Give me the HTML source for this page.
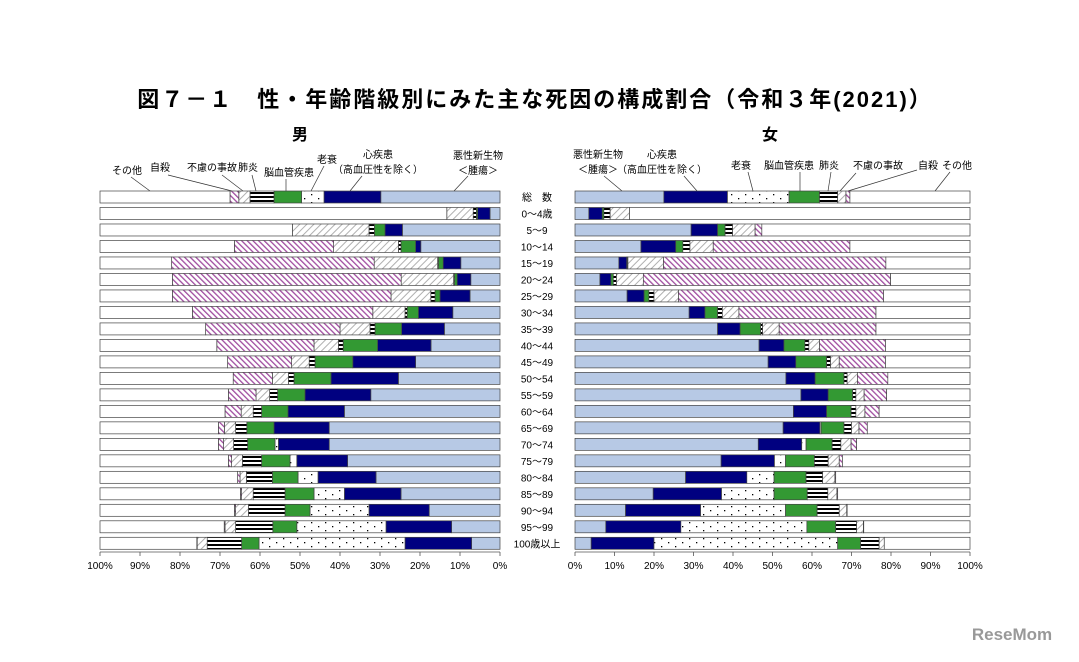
<!DOCTYPE html>
<html><head><meta charset="utf-8">
<style>
html,body{margin:0;padding:0;background:#fff;}
body{width:1079px;height:657px;overflow:hidden;font-family:"Liberation Sans","Noto Sans CJK JP",sans-serif;}
svg text{font-family:"Liberation Sans","Noto Sans CJK JP",sans-serif;}
</style></head>
<body>
<svg id="chart" width="1079" height="657" viewBox="0 0 1079 657" xmlns="http://www.w3.org/2000/svg">
<defs>
<pattern id="pDot" width="14" height="8" patternUnits="userSpaceOnUse"><rect width="14" height="8" fill="#fff"/><rect x="3" y="2" width="1.3" height="1.3" fill="#000"/><rect x="10" y="6" width="1.3" height="1.3" fill="#000"/></pattern>
<pattern id="pPneu" width="6" height="4" patternUnits="userSpaceOnUse"><rect width="6" height="4" fill="#fff"/><rect y="0" width="6" height="2" fill="#000"/></pattern>
<pattern id="pAcc" width="5" height="5" patternUnits="userSpaceOnUse" patternTransform="rotate(45)"><rect width="5" height="5" fill="#fff"/><rect width="1" height="5" fill="#b0b0b0"/></pattern>
<pattern id="pSui" width="4" height="4" patternUnits="userSpaceOnUse" patternTransform="rotate(-45)"><rect width="4" height="4" fill="#fff"/><rect width="1.3" height="4" fill="#a04ca0"/></pattern>
</defs>
<text x="535" y="107" text-anchor="middle" font-size="22" letter-spacing="2" font-weight="bold" fill="#000">図７－１　性・年齢階級別にみた主な死因の構成割合（令和３年(2021)）</text>
<text x="300" y="140" text-anchor="middle" font-size="16" font-weight="bold">男</text>
<text x="770" y="140" text-anchor="middle" font-size="16" font-weight="bold">女</text>
<g id="legendM" font-size="10" fill="#000"></g>
<g id="legendF" font-size="10" fill="#000"></g>
<g id="bars"></g>
<g id="axes" font-size="10"></g>
<text x="1012" y="640" text-anchor="middle" font-size="17" font-weight="bold" fill="#999">ReseMom</text>
</svg>
<script>
const ageLabels = ["総　数","0～4歳","5～9","10～14","15～19","20～24","25～29","30～34","35～39","40～44","45～49","50～54","55～59","60～64","65～69","70～74","75～79","80～84","85～89","90～94","95～99","100歳以上"];
const causes = ["悪性新生物","心疾患","老衰","脳血管疾患","肺炎","不慮の事故","自殺","その他"];
// male series (percent)
const maleCancer  = [29.8,2.5,24.4,19.8,9.8,7.3,7.5,11.8,13.9,17.25,21.1,25.4,32.3,38.9,42.7,42.7,38.1,31,24.75,17.7,12.1,7.1];
const maleHeart   = [14.2,3.1,4.35,1.3,4.4,3.4,7.5,8.6,10.7,13.35,15.7,16.85,16.45,14.1,13.8,12.7,12.7,14.5,14.15,15.05,16.4,16.65];
const maleSenility= [5.6,0,0,0,0,0,0,0,0,0,0,0,0,0,0,0.85,1.7,5,7.6,14.75,22.3,36.5];
const maleStroke  = [6.9,0.3,2.65,3.65,1.2,0.7,1.25,2.8,6.65,8.6,9.45,9.25,6.85,6.6,6.8,6.85,7.1,6.4,7.25,6.25,6,4.35];
const malePneu    = [6.0,0.8,1.35,0.65,0.2,0.2,1.05,0.55,1.25,1.2,1.45,1.4,2,2.1,2.8,3.5,4.8,6.5,7.95,9.15,9.3,8.6];
const maleAccident= [2.8,6.6,19.15,16.2,15.85,13.1,9.95,8.05,7.5,6.1,4.4,4,3.4,3,2.8,2.5,2.7,1.6,2.9,3.2,2.65,2.5];
const maleSuicide = [2.2,0,0,24.8,50.65,57.2,54.65,45.1,33.6,24.3,16,9.8,6.9,4.05,1.5,1.3,0.8,0.6,0.3,0.3,0.2,0.1];
// female series (percent)
const femCancer  = [22.5,3.5,29.4,16.7,11.1,6.3,13.2,28.9,36.1,46.6,48.9,53.4,57.2,55.3,52.7,46.4,37,28,19.8,12.8,7.8,4.1];
const femHeart   = [16.1,3.4,6.7,8.8,2,2.8,4.3,4,5.7,6.3,7,7.4,6.9,8.4,9.3,11,13.5,15.5,17.3,19,19,15.9];
const femSenility= [15.6,0,0,0,0,0,0,0,0,0,0,0,0,0,0.3,1.1,2.8,6.9,13.3,21.5,31.9,46.5];
const femStroke  = [7.7,0.4,1.9,1.8,0.2,0.6,1.2,3.2,5.2,5.3,7.8,7.3,6.2,6.2,5.8,6.6,7.3,8.1,8.4,8,7.3,5.8];
const femPneu    = [4.6,1.6,1.9,1.8,0.1,0.8,1.3,1.2,0.5,1,1,0.8,0.8,1.2,1.9,2.2,3.5,4.2,5.2,5.6,5.3,4.7];
const femAccident= [2.1,4.9,5.7,5.9,9.0,6.8,6.2,4.2,4.2,2.7,2.2,2.6,2.1,2.3,1.9,2.6,2.8,3.1,2.3,1.9,1.7,1.3];
const femSuicide = [1.0,0,1.7,34.6,56.3,62.6,51.9,34.7,24.5,16.7,11.7,7.7,5.7,3.6,2.1,1.4,0.8,0.2,0.2,0.1,0.1,0];
const tickLabels = ["0%","10%","20%","30%","40%","50%","60%","70%","80%","90%","100%"];

const fills = ["#b7c9e5","#000080","url(#pDot)","#339933","url(#pPneu)","url(#pAcc)","url(#pSui)","#fff"];
const segNames = ["cancer","heart","senility","stroke","pneumonia","accident","suicide","other"];
const NS = "http://www.w3.org/2000/svg";
const rowTop = i => 191 + i*16.49;
const BAR_H = 12;
const xM = p => 500 - 4*p;
const xF = p => 575 + 3.95*p;
const barsG = document.getElementById('bars');

function drawPanel(series, xs, sex){
  for(let i=0;i<ageLabels.length;i++){
    const vals = series.map(s=>s[i]);
    const sum = vals.reduce((a,b)=>a+b,0);
    vals.push(Math.max(0,100-sum));
    let cum = 0;
    const g = document.createElementNS(NS,'g');
    
    
    for(let k=0;k<vals.length;k++){
      const a = xs(cum), b = xs(cum+vals[k]);
      cum += vals[k];
      if(vals[k]<=0) continue;
      const r = document.createElementNS(NS,'rect');
      r.setAttribute('x', Math.min(a,b));
      r.setAttribute('y', rowTop(i));
      r.setAttribute('width', Math.abs(b-a));
      r.setAttribute('height', BAR_H);
      r.setAttribute('fill', fills[k]);
      r.setAttribute('stroke', '#444');
      r.setAttribute('stroke-width', '0.7');
      
      
      g.appendChild(r);
    }
    barsG.appendChild(g);
  }
}
drawPanel([maleCancer,maleHeart,maleSenility,maleStroke,malePneu,maleAccident,maleSuicide], xM, 'male');
drawPanel([femCancer,femHeart,femSenility,femStroke,femPneu,femAccident,femSuicide], xF, 'female');

for(let i=0;i<ageLabels.length;i++){
  const t=document.createElementNS(NS,'text');
  t.setAttribute('x',537); t.setAttribute('y',rowTop(i)+10);
  t.setAttribute('text-anchor','middle'); t.setAttribute('font-size','10');
  t.textContent=ageLabels[i];
  
  
  barsG.appendChild(t);
}
const axG=document.getElementById('axes');
function axis(xs, sex){
  const l=document.createElementNS(NS,'line');
  l.setAttribute('x1',xs(0)); l.setAttribute('x2',xs(100)); l.setAttribute('y1',552); l.setAttribute('y2',552);
  l.setAttribute('stroke','#555'); l.setAttribute('stroke-width','0.8');
  
  
  axG.appendChild(l);
  for(let k=0;k<tickLabels.length;k++){
    const p=k*10;
    const tk=document.createElementNS(NS,'line');
    tk.setAttribute('x1',xs(p)); tk.setAttribute('x2',xs(p)); tk.setAttribute('y1',552); tk.setAttribute('y2',556);
    tk.setAttribute('stroke','#555'); tk.setAttribute('stroke-width','0.8');
    axG.appendChild(tk);
    const t=document.createElementNS(NS,'text');
    t.setAttribute('x',xs(p)); t.setAttribute('y',569); t.setAttribute('text-anchor','middle');
    t.textContent=tickLabels[k];
    
    
    axG.appendChild(t);
  }
}
axis(xM,'male'); axis(xF,'female');

function legend(gid, items, sex){
  const g=document.getElementById(gid);
  for(const it of items){
    for(let j=0;j<it.t.length;j++){
      const t=document.createElementNS(NS,'text');
      t.setAttribute('x',it.x); t.setAttribute('y',it.y+j*15); t.setAttribute('text-anchor','middle');
      t.textContent=it.t[j];
      
      
      g.appendChild(t);
    }
    const l=document.createElementNS(NS,'line');
    l.setAttribute('x1',it.l[0]); l.setAttribute('y1',it.l[1]); l.setAttribute('x2',it.l[2]); l.setAttribute('y2',it.l[3]);
    l.setAttribute('stroke','#333'); l.setAttribute('stroke-width','0.7');
    
    
    g.appendChild(l);
  }
}
legend('legendM',[
  {t:["その他"],x:127,y:174,l:[131,177,150,191]},
  {t:["自殺"],x:160,y:171,l:[168,175,232,191]},
  {t:["不慮の事故"],x:212,y:171,l:[222,175,243,191]},
  {t:["肺炎"],x:248,y:171,l:[252,175,256,191]},
  {t:["脳血管疾患"],x:289,y:176,l:[286,179,286,191]},
  {t:["老衰"],x:327,y:163,l:[324,166,311,191]},
  {t:["心疾患","（高血圧性を除く）"],x:378,y:158,l:[362,176,350,191]},
  {t:["悪性新生物","＜腫瘍＞"],x:478,y:159,l:[468,176,454,191]}
],'male');
legend('legendF',[
  {t:["悪性新生物","＜腫瘍＞"],x:598,y:158,l:[604,176,622,191]},
  {t:["心疾患","（高血圧性を除く）"],x:662,y:158,l:[684,176,697,191]},
  {t:["老衰"],x:741,y:169,l:[748,172,753,191]},
  {t:["脳血管疾患"],x:789,y:169,l:[800,172,800,191]},
  {t:["肺炎"],x:829,y:169,l:[831,172,828,191]},
  {t:["不慮の事故"],x:878,y:169,l:[856,173,840,191]},
  {t:["自殺"],x:928,y:169,l:[917,170,848,191]},
  {t:["その他"],x:957,y:169,l:[950,172,935,191]}
],'female');
</script>
</body></html>
